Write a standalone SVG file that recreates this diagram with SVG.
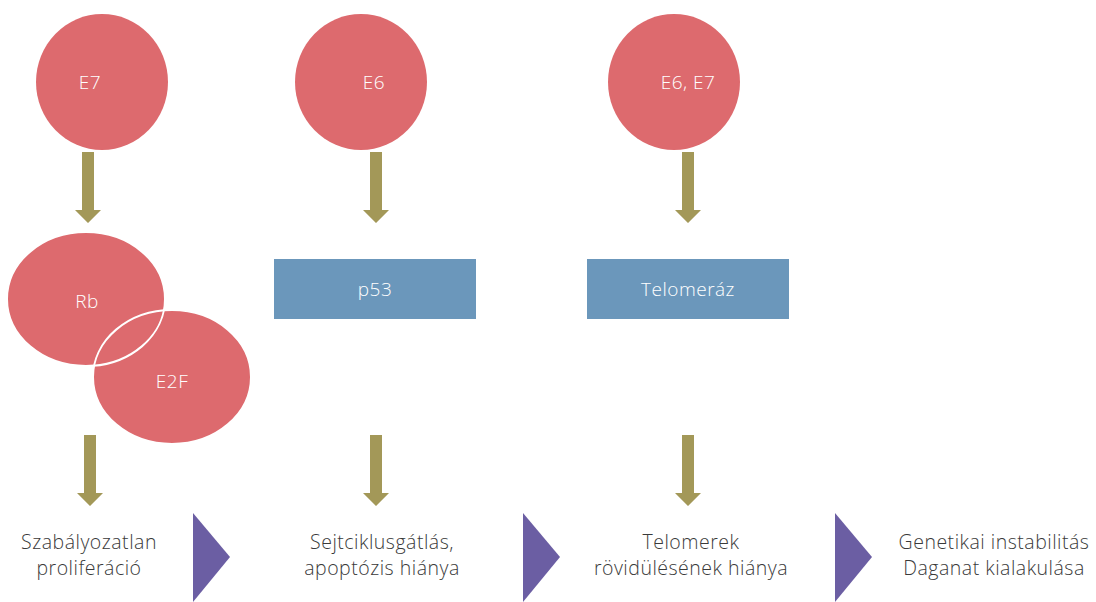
<svg xmlns="http://www.w3.org/2000/svg" width="1096" height="602" viewBox="0 0 1096 602">
<style>
.ell{fill:#dd6a6e}
.ov{fill:#dd6a6e;stroke:#ffffff;stroke-width:2}
.box{fill:#6b97bb}
.arr{fill:#a39858}
.tri{fill:#6b5ea3}
.nt{font-family:"Open Sans","Noto Sans",sans-serif;font-size:19px;font-weight:300;fill:#ffffff;text-anchor:middle;letter-spacing:0.5px}
.lt{font-family:"Open Sans","Noto Sans",sans-serif;font-size:19.5px;fill:#3a3a3a;text-anchor:middle;font-weight:300;letter-spacing:0.5px}
</style>
<defs>
<path id="arrow" d="M-6,0 H6 V58 H13 L0,71 L-13,58 H-6 Z"/>
<clipPath id="c2"><ellipse cx="172" cy="377" rx="79" ry="67"/></clipPath>
</defs>
<g id="e7"><ellipse class="ell" cx="102" cy="82" rx="66" ry="68"/><text class="nt" x="90" y="89">E7</text></g>
<g id="e6"><ellipse class="ell" cx="361" cy="82" rx="66" ry="68"/><text class="nt" x="374" y="89">E6</text></g>
<g id="e6e7"><ellipse class="ell" cx="674" cy="82" rx="66" ry="68"/><text class="nt" x="688" y="89">E6, E7</text></g>
<g id="rb"><ellipse class="ov" cx="86" cy="299" rx="79" ry="67"/><text class="nt" x="87" y="308">Rb</text></g>
<g id="e2f"><ellipse class="ov" cx="172" cy="377" rx="79" ry="67"/><ellipse cx="86" cy="299" rx="79" ry="67" fill="none" stroke="#ffffff" stroke-width="2" clip-path="url(#c2)"/><text class="nt" x="172" y="388">E2F</text></g>
<g id="p53"><rect class="box" x="274" y="259" width="202" height="60"/><text class="nt" x="375" y="296">p53</text></g>
<g id="telomeraz"><rect class="box" x="587" y="259" width="202" height="60"/><text class="nt" x="688" y="296">Telomeráz</text></g>
<g id="connectors">
<use href="#arrow" class="arr" x="88" y="152"/>
<use href="#arrow" class="arr" x="376" y="152"/>
<use href="#arrow" class="arr" x="688" y="152"/>
<use href="#arrow" class="arr" x="90" y="435"/>
<use href="#arrow" class="arr" x="376" y="435"/>
<use href="#arrow" class="arr" x="688" y="435"/>
<polygon class="tri" points="193,513 230,557 193,602"/>
<polygon class="tri" points="523,513 560,557 523,602"/>
<polygon class="tri" points="835,513 872,557 835,602"/>
</g>
<g id="out1"><text class="lt" x="89" y="549">Szabályozatlan</text><text class="lt" x="89" y="575">proliferáció</text></g>
<g id="out2"><text class="lt" x="382" y="549">Sejtciklusgátlás,</text><text class="lt" x="382" y="575">apoptózis hiánya</text></g>
<g id="out3"><text class="lt" x="691" y="549">Telomerek</text><text class="lt" x="691" y="575">rövidülésének hiánya</text></g>
<g id="out4"><text class="lt" x="994" y="549">Genetikai instabilitás</text><text class="lt" x="994" y="575">Daganat kialakulása</text></g>
</svg>
